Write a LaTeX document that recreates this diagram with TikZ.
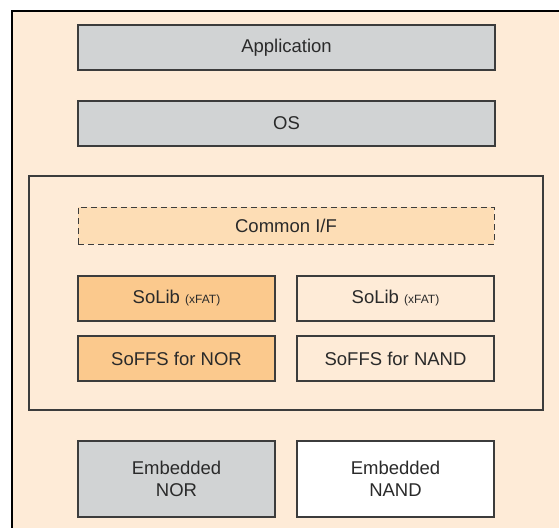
\documentclass[tikz,border=0pt]{standalone}
\usepackage{fontspec}
\setmainfont{Liberation Sans}
\definecolor{bgpeach}{HTML}{FEEBD7}
\definecolor{boxgray}{HTML}{D1D3D4}
\definecolor{boxorange}{HTML}{FBC98D}
\definecolor{iforange}{HTML}{FDDDB5}
\definecolor{edgegray}{HTML}{3C3C3C}
\definecolor{txtgray}{HTML}{2A2A2A}
\begin{document}
\begin{tikzpicture}[x=1pt,y=-1pt,
  layerbox/.style={draw=edgegray,line width=1.2pt,rectangle,inner sep=0pt,
    minimum width=#1,text=txtgray,font=\fontsize{18.5}{22}\selectfont,align=center},
  layerbox/.default=197pt]
\useasboundingbox (0,0) rectangle (559,527);
\fill[white] (0,0) rectangle (559,527);
\fill[bgpeach] (12,10) rectangle (563,531);
\draw[black,line width=2.2pt] (12,531) -- (12,11) -- (563,11);
% inner container
\node[draw=edgegray,line width=1.1pt,rectangle,inner sep=0pt,minimum width=514pt,minimum height=234pt] (core) at (286,293) {};
\node[layerbox=417pt,fill=boxgray,minimum height=45pt] (app) at (286.5,47.5) {Application};
\node[layerbox=417pt,fill=boxgray,minimum height=45pt] (os) at (286.5,123.5) {OS};
\node[layerbox=416pt,fill=iforange,draw=edgegray,dash pattern=on 6pt off 4pt,line width=1pt,minimum height=37pt] (cif) at (286,225.5) {Common I/F};
\node[layerbox,fill=boxorange,minimum height=45pt] (solibl) at (176.5,298.5) {SoLib {\fontsize{12}{14}\selectfont (xFAT)}};
\node[layerbox,fill=bgpeach,minimum height=45pt] (solibr) at (395.5,298.5) {SoLib {\fontsize{12}{14}\selectfont (xFAT)}};
\node[layerbox,fill=boxorange,minimum height=45pt] (soffsl) at (176.5,358.5) {SoFFS for NOR};
\node[layerbox,fill=bgpeach,minimum height=45pt] (soffsr) at (395.5,358.5) {SoFFS for NAND};
\node[layerbox,fill=boxgray,minimum height=76pt] (enor) at (176.5,479) {Embedded\\NOR};
\node[layerbox,fill=white,minimum height=76pt] (enand) at (395.5,479) {Embedded\\NAND};
\end{tikzpicture}
\end{document}
